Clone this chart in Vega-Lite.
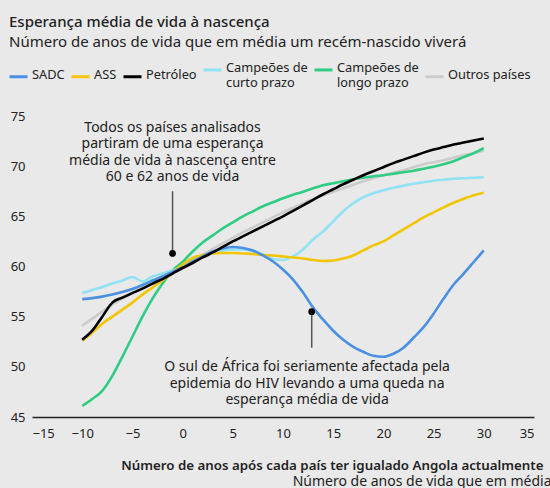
{
  "$schema": "https://vega.github.io/schema/vega-lite/v6.json",
  "width": 502,
  "height": 301,
  "autosize": {"type": "none"},
  "padding": {"left": 32, "top": 116, "right": 16, "bottom": 71},
  "background": "#e9e9e9",
  "config": {
    "font": "Noto Sans",
    "view": {"stroke": null},
    "text": {"font": "Noto Sans"}
  },
  "title": {
    "text": "Esperança média de vida à nascença",
    "subtitle": "Número de anos de vida que em média um recém-nascido viverá",
    "anchor": "start",
    "frame": "group",
    "dx": -23,
    "fontSize": 15,
    "fontWeight": 500,
    "color": "#222222",
    "subtitleFontSize": 15,
    "subtitleColor": "#222222",
    "subtitlePadding": 5,
    "offset": 9
  },
  "datasets": {
    "notes": [
      {"x": -1.0, "yDot": 61.3, "yEnd": 67.5, "yText": 73.8, "xText": -1.0, "text": "Todos os países analisados\npartiram de uma esperança\nmédia de vida à nascença entre\n60 e 62 anos de vida"},
      {"x": 12.86, "yDot": 55.5, "yEnd": 51.9, "yText": 49.97, "xText": 12.4, "text": "O sul de África foi seriamente afectada pela\nepidemia do HIV levando a uma queda na\nesperança média de vida"}
    ]
  },
  "data": {"values": [
    {"s":"Outros países","x":-10,"y":54.1},{"s":"Outros países","x":-9,"y":54.8},{"s":"Outros países","x":-8,"y":55.5},{"s":"Outros países","x":-7,"y":56.2},{"s":"Outros países","x":-6,"y":56.8},{"s":"Outros países","x":-5,"y":57.35},{"s":"Outros países","x":-4,"y":57.9},{"s":"Outros países","x":-3,"y":58.4},{"s":"Outros países","x":-2,"y":58.9},{"s":"Outros países","x":-1,"y":59.4},{"s":"Outros países","x":0,"y":59.95},{"s":"Outros países","x":1,"y":60.55},{"s":"Outros países","x":2,"y":61.15},{"s":"Outros países","x":3,"y":61.75},{"s":"Outros países","x":4,"y":62.3},{"s":"Outros países","x":5,"y":62.85},{"s":"Outros países","x":6,"y":63.4},{"s":"Outros países","x":7,"y":63.9},{"s":"Outros países","x":8,"y":64.4},{"s":"Outros países","x":9,"y":64.9},{"s":"Outros países","x":10,"y":65.4},{"s":"Outros países","x":11,"y":65.85},{"s":"Outros países","x":12,"y":66.3},{"s":"Outros países","x":13,"y":66.7},{"s":"Outros países","x":14,"y":67.1},{"s":"Outros países","x":15,"y":67.45},{"s":"Outros países","x":16,"y":67.8},{"s":"Outros países","x":17,"y":68.15},{"s":"Outros países","x":18,"y":68.5},{"s":"Outros países","x":19,"y":68.8},{"s":"Outros países","x":20,"y":69.1},{"s":"Outros países","x":21,"y":69.35},{"s":"Outros países","x":22,"y":69.6},{"s":"Outros países","x":23,"y":69.9},{"s":"Outros países","x":24,"y":70.2},{"s":"Outros países","x":25,"y":70.4},{"s":"Outros países","x":26,"y":70.6},{"s":"Outros países","x":27,"y":70.85},{"s":"Outros países","x":28,"y":71.1},{"s":"Outros países","x":29,"y":71.3},{"s":"Outros países","x":30,"y":71.55},
    {"s":"Campeões de longo prazo","x":-10,"y":46.1},{"s":"Campeões de longo prazo","x":-9,"y":46.8},{"s":"Campeões de longo prazo","x":-8,"y":47.6},{"s":"Campeões de longo prazo","x":-7,"y":49.1},{"s":"Campeões de longo prazo","x":-6,"y":51.0},{"s":"Campeões de longo prazo","x":-5,"y":53.0},{"s":"Campeões de longo prazo","x":-4,"y":55.0},{"s":"Campeões de longo prazo","x":-3,"y":56.8},{"s":"Campeões de longo prazo","x":-2,"y":58.3},{"s":"Campeões de longo prazo","x":-1,"y":59.6},{"s":"Campeões de longo prazo","x":0,"y":60.45},{"s":"Campeões de longo prazo","x":1,"y":61.5},{"s":"Campeões de longo prazo","x":2,"y":62.4},{"s":"Campeões de longo prazo","x":3,"y":63.1},{"s":"Campeões de longo prazo","x":4,"y":63.8},{"s":"Campeões de longo prazo","x":5,"y":64.4},{"s":"Campeões de longo prazo","x":6,"y":65.0},{"s":"Campeões de longo prazo","x":7,"y":65.5},{"s":"Campeões de longo prazo","x":8,"y":66.0},{"s":"Campeões de longo prazo","x":9,"y":66.4},{"s":"Campeões de longo prazo","x":10,"y":66.8},{"s":"Campeões de longo prazo","x":11,"y":67.15},{"s":"Campeões de longo prazo","x":12,"y":67.45},{"s":"Campeões de longo prazo","x":13,"y":67.8},{"s":"Campeões de longo prazo","x":14,"y":68.1},{"s":"Campeões de longo prazo","x":15,"y":68.3},{"s":"Campeões de longo prazo","x":16,"y":68.5},{"s":"Campeões de longo prazo","x":17,"y":68.7},{"s":"Campeões de longo prazo","x":18,"y":68.85},{"s":"Campeões de longo prazo","x":19,"y":69.0},{"s":"Campeões de longo prazo","x":20,"y":69.1},{"s":"Campeões de longo prazo","x":21,"y":69.25},{"s":"Campeões de longo prazo","x":22,"y":69.4},{"s":"Campeões de longo prazo","x":23,"y":69.55},{"s":"Campeões de longo prazo","x":24,"y":69.75},{"s":"Campeões de longo prazo","x":25,"y":69.95},{"s":"Campeões de longo prazo","x":26,"y":70.2},{"s":"Campeões de longo prazo","x":27,"y":70.5},{"s":"Campeões de longo prazo","x":28,"y":70.9},{"s":"Campeões de longo prazo","x":29,"y":71.3},{"s":"Campeões de longo prazo","x":30,"y":71.8},
    {"s":"Campeões de curto prazo","x":-10,"y":57.35},{"s":"Campeões de curto prazo","x":-9,"y":57.65},{"s":"Campeões de curto prazo","x":-8,"y":57.95},{"s":"Campeões de curto prazo","x":-7,"y":58.3},{"s":"Campeões de curto prazo","x":-6,"y":58.6},{"s":"Campeões de curto prazo","x":-5,"y":58.95},{"s":"Campeões de curto prazo","x":-4,"y":58.5},{"s":"Campeões de curto prazo","x":-3,"y":59.0},{"s":"Campeões de curto prazo","x":-2,"y":59.3},{"s":"Campeões de curto prazo","x":-1,"y":59.6},{"s":"Campeões de curto prazo","x":0,"y":59.95},{"s":"Campeões de curto prazo","x":1,"y":60.5},{"s":"Campeões de curto prazo","x":2,"y":61.0},{"s":"Campeões de curto prazo","x":3,"y":61.35},{"s":"Campeões de curto prazo","x":4,"y":61.6},{"s":"Campeões de curto prazo","x":5,"y":61.7},{"s":"Campeões de curto prazo","x":6,"y":61.7},{"s":"Campeões de curto prazo","x":7,"y":61.55},{"s":"Campeões de curto prazo","x":8,"y":61.2},{"s":"Campeões de curto prazo","x":9,"y":60.75},{"s":"Campeões de curto prazo","x":10,"y":60.65},{"s":"Campeões de curto prazo","x":11,"y":61.0},{"s":"Campeões de curto prazo","x":12,"y":61.7},{"s":"Campeões de curto prazo","x":13,"y":62.7},{"s":"Campeões de curto prazo","x":14,"y":63.5},{"s":"Campeões de curto prazo","x":15,"y":64.5},{"s":"Campeões de curto prazo","x":16,"y":65.5},{"s":"Campeões de curto prazo","x":17,"y":66.3},{"s":"Campeões de curto prazo","x":18,"y":66.9},{"s":"Campeões de curto prazo","x":19,"y":67.3},{"s":"Campeões de curto prazo","x":20,"y":67.6},{"s":"Campeões de curto prazo","x":21,"y":67.85},{"s":"Campeões de curto prazo","x":22,"y":68.05},{"s":"Campeões de curto prazo","x":23,"y":68.25},{"s":"Campeões de curto prazo","x":24,"y":68.4},{"s":"Campeões de curto prazo","x":25,"y":68.55},{"s":"Campeões de curto prazo","x":26,"y":68.65},{"s":"Campeões de curto prazo","x":27,"y":68.75},{"s":"Campeões de curto prazo","x":28,"y":68.8},{"s":"Campeões de curto prazo","x":29,"y":68.85},{"s":"Campeões de curto prazo","x":30,"y":68.9},
    {"s":"ASS","x":-10,"y":52.6},{"s":"ASS","x":-9,"y":53.4},{"s":"ASS","x":-8,"y":54.3},{"s":"ASS","x":-7,"y":55.0},{"s":"ASS","x":-6,"y":55.7},{"s":"ASS","x":-5,"y":56.4},{"s":"ASS","x":-4,"y":57.2},{"s":"ASS","x":-3,"y":57.9},{"s":"ASS","x":-2,"y":58.6},{"s":"ASS","x":-1,"y":59.4},{"s":"ASS","x":0,"y":60.2},{"s":"ASS","x":1,"y":60.85},{"s":"ASS","x":2,"y":61.15},{"s":"ASS","x":3,"y":61.3},{"s":"ASS","x":4,"y":61.35},{"s":"ASS","x":5,"y":61.35},{"s":"ASS","x":6,"y":61.3},{"s":"ASS","x":7,"y":61.25},{"s":"ASS","x":8,"y":61.15},{"s":"ASS","x":9,"y":61.1},{"s":"ASS","x":10,"y":61.0},{"s":"ASS","x":11,"y":60.9},{"s":"ASS","x":12,"y":60.8},{"s":"ASS","x":13,"y":60.65},{"s":"ASS","x":14,"y":60.55},{"s":"ASS","x":15,"y":60.6},{"s":"ASS","x":16,"y":60.8},{"s":"ASS","x":17,"y":61.1},{"s":"ASS","x":18,"y":61.6},{"s":"ASS","x":19,"y":62.1},{"s":"ASS","x":20,"y":62.5},{"s":"ASS","x":21,"y":63.1},{"s":"ASS","x":22,"y":63.7},{"s":"ASS","x":23,"y":64.3},{"s":"ASS","x":24,"y":64.9},{"s":"ASS","x":25,"y":65.4},{"s":"ASS","x":26,"y":65.9},{"s":"ASS","x":27,"y":66.35},{"s":"ASS","x":28,"y":66.75},{"s":"ASS","x":29,"y":67.1},{"s":"ASS","x":30,"y":67.35},
    {"s":"SADC","x":-10,"y":56.75},{"s":"SADC","x":-9,"y":56.85},{"s":"SADC","x":-8,"y":57.0},{"s":"SADC","x":-7,"y":57.2},{"s":"SADC","x":-6,"y":57.45},{"s":"SADC","x":-5,"y":57.75},{"s":"SADC","x":-4,"y":58.15},{"s":"SADC","x":-3,"y":58.6},{"s":"SADC","x":-2,"y":59.0},{"s":"SADC","x":-1,"y":59.45},{"s":"SADC","x":0,"y":59.9},{"s":"SADC","x":1,"y":60.5},{"s":"SADC","x":2,"y":61.0},{"s":"SADC","x":3,"y":61.5},{"s":"SADC","x":4,"y":61.8},{"s":"SADC","x":5,"y":61.95},{"s":"SADC","x":6,"y":61.85},{"s":"SADC","x":7,"y":61.6},{"s":"SADC","x":8,"y":61.1},{"s":"SADC","x":9,"y":60.5},{"s":"SADC","x":10,"y":59.7},{"s":"SADC","x":11,"y":58.7},{"s":"SADC","x":12,"y":57.4},{"s":"SADC","x":13,"y":55.9},{"s":"SADC","x":14,"y":54.7},{"s":"SADC","x":15,"y":53.6},{"s":"SADC","x":16,"y":52.7},{"s":"SADC","x":17,"y":52.0},{"s":"SADC","x":18,"y":51.5},{"s":"SADC","x":19,"y":51.1},{"s":"SADC","x":20,"y":51.0},{"s":"SADC","x":21,"y":51.3},{"s":"SADC","x":22,"y":51.9},{"s":"SADC","x":23,"y":52.9},{"s":"SADC","x":24,"y":53.95},{"s":"SADC","x":25,"y":55.3},{"s":"SADC","x":26,"y":56.8},{"s":"SADC","x":27,"y":58.2},{"s":"SADC","x":28,"y":59.3},{"s":"SADC","x":29,"y":60.45},{"s":"SADC","x":30,"y":61.6},
    {"s":"Petróleo","x":-10,"y":52.7},{"s":"Petróleo","x":-9,"y":53.6},{"s":"Petróleo","x":-8,"y":55.0},{"s":"Petróleo","x":-7,"y":56.4},{"s":"Petróleo","x":-6,"y":56.9},{"s":"Petróleo","x":-5,"y":57.35},{"s":"Petróleo","x":-4,"y":57.8},{"s":"Petróleo","x":-3,"y":58.3},{"s":"Petróleo","x":-2,"y":58.75},{"s":"Petróleo","x":-1,"y":59.3},{"s":"Petróleo","x":0,"y":59.85},{"s":"Petróleo","x":1,"y":60.35},{"s":"Petróleo","x":2,"y":60.9},{"s":"Petróleo","x":3,"y":61.4},{"s":"Petróleo","x":4,"y":61.95},{"s":"Petróleo","x":5,"y":62.5},{"s":"Petróleo","x":6,"y":63.0},{"s":"Petróleo","x":7,"y":63.5},{"s":"Petróleo","x":8,"y":64.0},{"s":"Petróleo","x":9,"y":64.5},{"s":"Petróleo","x":10,"y":65.0},{"s":"Petróleo","x":11,"y":65.55},{"s":"Petróleo","x":12,"y":66.1},{"s":"Petróleo","x":13,"y":66.65},{"s":"Petróleo","x":14,"y":67.2},{"s":"Petróleo","x":15,"y":67.7},{"s":"Petróleo","x":16,"y":68.2},{"s":"Petróleo","x":17,"y":68.65},{"s":"Petróleo","x":18,"y":69.1},{"s":"Petróleo","x":19,"y":69.5},{"s":"Petróleo","x":20,"y":69.9},{"s":"Petróleo","x":21,"y":70.3},{"s":"Petróleo","x":22,"y":70.65},{"s":"Petróleo","x":23,"y":71.0},{"s":"Petróleo","x":24,"y":71.35},{"s":"Petróleo","x":25,"y":71.65},{"s":"Petróleo","x":26,"y":71.9},{"s":"Petróleo","x":27,"y":72.15},{"s":"Petróleo","x":28,"y":72.35},{"s":"Petróleo","x":29,"y":72.55},{"s":"Petróleo","x":30,"y":72.75}
  ]},
  "layer": [
    {
      "mark": {"type": "line", "strokeWidth": 2.6, "interpolate": "monotone"},
      "encoding": {
        "x": {
          "field": "x", "type": "quantitative",
          "scale": {"domain": [-15, 35], "nice": false},
          "axis": {
            "values": [-15, -10, -5, 0, 5, 10, 15, 20, 25, 30, 35],
            "grid": false, "ticks": false, "domainColor": "#222222", "domainWidth": 1.5,
            "labelFontSize": 13, "labelColor": "#222222", "labelPadding": 10,
            "title": "Número de anos após cada país ter igualado Angola actualmente",
            "titleFontSize": 13.3, "titleFontWeight": 600, "titleColor": "#222222",
            "titleAnchor": "end", "titleAlign": "right", "titleX": 511, "titleY": 48, "titleBaseline": "middle"
          }
        },
        "y": {
          "field": "y", "type": "quantitative",
          "scale": {"domain": [45, 75], "nice": false, "zero": false},
          "axis": {
            "values": [45, 50, 55, 60, 65, 70, 75],
            "grid": false, "ticks": false, "domain": false,
            "labelFontSize": 13, "labelColor": "#222222", "labelPadding": 7,
            "title": "Número de anos de vida que em média",
            "titleFontSize": 14, "titleFontWeight": "normal", "titleColor": "#222222",
            "titleAngle": 0, "titleAlign": "right", "titleX": 519, "titleY": 365, "titleBaseline": "middle"
          }
        },
        "color": {
          "field": "s", "type": "nominal",
          "scale": {
            "domain": ["SADC", "ASS", "Petróleo", "Campeões de curto prazo", "Campeões de longo prazo", "Outros países"],
            "range": ["#4a90e2", "#f2c500", "#000000", "#90e2f4", "#2fcc84", "#cccccc"]
          },
          "legend": {
            "title": null,
            "orient": "none",
            "direction": "horizontal",
            "legendX": -24,
            "legendY": -57,
            "padding": 0,
            "symbolType": "stroke",
            "symbolSize": 324,
            "symbolStrokeWidth": 3,
            "labelFontSize": 12.8,
            "labelColor": "#222222",
            "labelOffset": 3,
            "labelLimit": 300,
            "columnPadding": 0,
            "labelBaseline": "top",
            "labelExpr": "datum.label == 'Campeões de curto prazo' ? ['Campeões de', 'curto prazo'] : datum.label == 'Campeões de longo prazo' ? ['Campeões de', 'longo prazo'] : datum.label",
            "encode": {"labels": {"update": {"dy": {"value": -8}}}}
          }
        }
      }
    },
    {
      "data": {"name": "notes"},
      "mark": {"type": "rule", "color": "#555555", "strokeWidth": 1.5},
      "encoding": {
        "x": {"field": "x", "type": "quantitative"},
        "y": {"field": "yDot", "type": "quantitative"},
        "y2": {"field": "yEnd"}
      }
    },
    {
      "data": {"name": "notes"},
      "mark": {"type": "point", "filled": true, "color": "#000000", "size": 45, "opacity": 1},
      "encoding": {
        "x": {"field": "x", "type": "quantitative"},
        "y": {"field": "yDot", "type": "quantitative"}
      }
    },
    {
      "data": {"name": "notes"},
      "mark": {"type": "text", "fontSize": 14, "color": "#222222", "lineBreak": "\n", "lineHeight": 16.4, "align": "center", "baseline": "middle"},
      "encoding": {
        "x": {"field": "xText", "type": "quantitative"},
        "y": {"field": "yText", "type": "quantitative"},
        "text": {"field": "text"}
      }
    }
  ]
}
